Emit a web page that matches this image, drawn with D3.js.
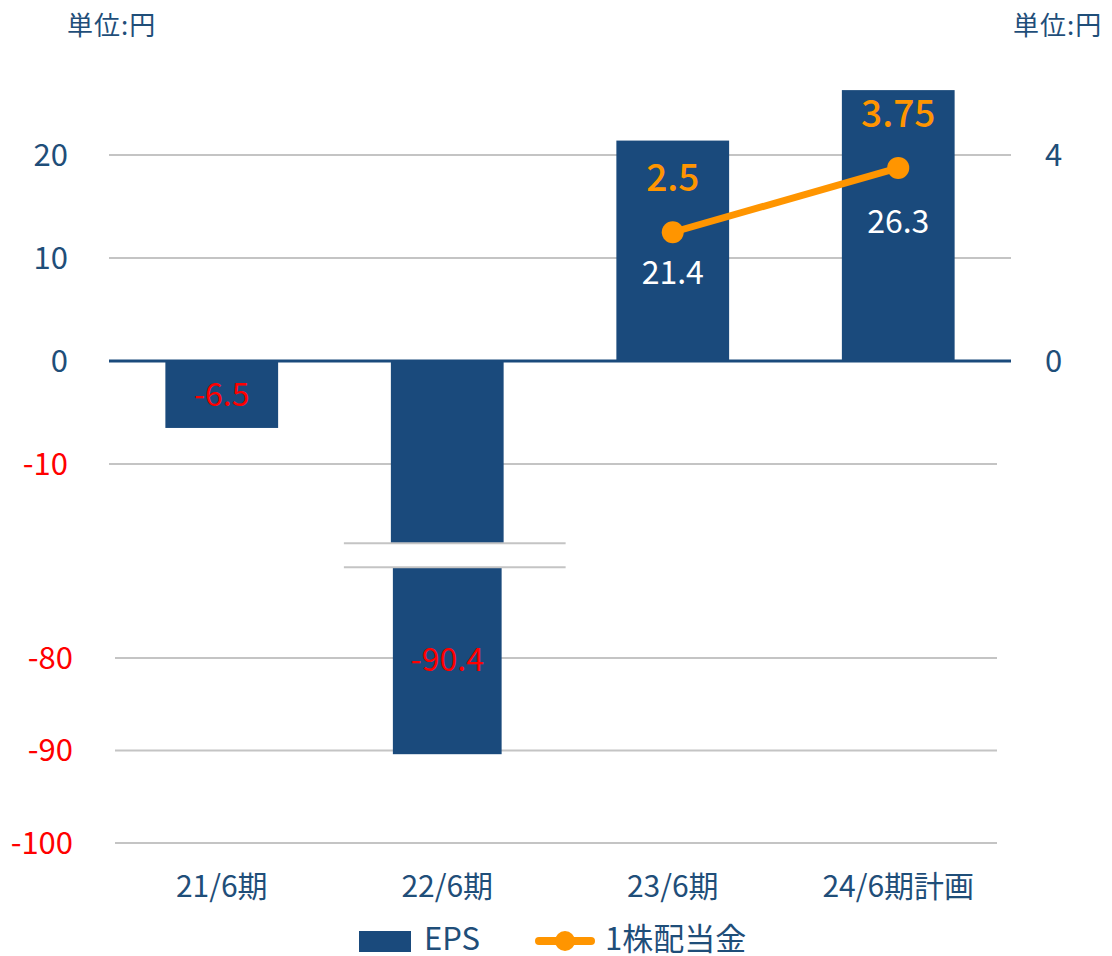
<!DOCTYPE html>
<html>
<head>
<meta charset="utf-8">
<script src="https://cdn.jsdelivr.net/npm/d3@7"></script>
<style>
  body { margin: 0; background: #fff; }
  svg { font-family: "Noto Sans CJK JP", "Noto Sans", sans-serif; }
</style>
</head>
<body>
<svg id="chart" width="1112" height="956"></svg>
<script>
const categories = ["21/6期", "22/6期", "23/6期", "24/6期計画"];
const eps = [-6.5, -90.4, 21.4, 26.3];
const dividend = [null, null, 2.5, 3.75];
const leftTicksUpper = [20, 10, 0, -10];
const leftTicksLower = [-80, -90, -100];
const rightTicks = [4, 0];

const colors = {
    bar: "#1a4a7c",
    line: "#ff9500",
    axisText: "#1f4e79",
    negative: "#ff0000",
    grid: "#c4c4c4",
};

const svg = d3.select("#chart");

// broken axis: upper part and lower part use their own scales
const yUp = d3.scaleLinear().domain([-10, 20]).range([464, 155]);
const yLow = d3.scaleLinear().domain([-100, -80]).range([843, 658]);
const breakUp = -17.7;   // where the long bar is cut in the upper scale
const breakLow = -70.2;  // where it resumes in the lower scale
const yRight = d3.scaleLinear().domain([0, 4]).range([yUp(0), yUp(20)]);

const x = d3.scaleBand().domain(categories).range([109, 1011])
    .paddingInner(0.5).paddingOuter(0.25);
const cx = c => x(c) + x.bandwidth() / 2;

// grid lines
leftTicksUpper.filter(t => t !== 0).forEach(t => {
    svg.append("line")
        .attr("x1", 109).attr("x2", t < 0 ? 997 : 1011)
        .attr("y1", yUp(t)).attr("y2", yUp(t))
        .attr("stroke", colors.grid).attr("stroke-width", 2);
});
leftTicksLower.forEach(t => {
    svg.append("line")
        .attr("x1", 115).attr("x2", 997)
        .attr("y1", yLow(t)).attr("y2", yLow(t))
        .attr("stroke", colors.grid).attr("stroke-width", 2);
});

// bars
eps.forEach((v, i) => {
    const bx = x(categories[i]);
    const bw = x.bandwidth();
    if (v >= breakUp) {
        const y0 = yUp(Math.max(v, 0));
        const y1 = yUp(Math.min(v, 0));
        svg.append("rect")
            .attr("x", bx).attr("y", y0)
            .attr("width", bw).attr("height", y1 - y0)
            .attr("fill", colors.bar);
    } else {
        svg.append("rect")
            .attr("x", bx).attr("y", yUp(0))
            .attr("width", bw).attr("height", yUp(breakUp) - yUp(0))
            .attr("fill", colors.bar);
        svg.append("rect")
            .attr("x", bx + 2).attr("y", yLow(breakLow))
            .attr("width", bw - 4).attr("height", yLow(v) - yLow(breakLow))
            .attr("fill", colors.bar);
        // break marks
        [yUp(breakUp), yLow(breakLow)].forEach(by => {
            svg.append("line")
                .attr("x1", bx - 47).attr("x2", bx + bw + 62)
                .attr("y1", by).attr("y2", by)
                .attr("stroke", colors.grid).attr("stroke-width", 2);
        });
    }
});

// zero line
svg.append("line")
    .attr("x1", 109).attr("x2", 1011)
    .attr("y1", yUp(0)).attr("y2", yUp(0))
    .attr("stroke", colors.bar).attr("stroke-width", 3);

// left axis labels
leftTicksUpper.forEach(t => {
    svg.append("text")
        .attr("x", 68).attr("y", yUp(t)).attr("dy", "0.35em")
        .attr("text-anchor", "end")
        .attr("font-size", 31)
        .attr("fill", t < 0 ? colors.negative : colors.axisText)
        .text(t);
});
leftTicksLower.forEach(t => {
    svg.append("text")
        .attr("x", 73).attr("y", yLow(t)).attr("dy", "0.35em")
        .attr("text-anchor", "end")
        .attr("font-size", 31)
        .attr("fill", colors.negative)
        .text(t);
});

// right axis labels
rightTicks.forEach(t => {
    svg.append("text")
        .attr("x", 1045).attr("y", yRight(t)).attr("dy", "0.35em")
        .attr("text-anchor", "start")
        .attr("font-size", 31)
        .attr("fill", colors.axisText)
        .text(t);
});

// unit labels
svg.append("text").attr("x", 67).attr("y", 35)
    .attr("font-size", 26).attr("letter-spacing", 1)
    .attr("fill", colors.axisText).text("単位:円");
svg.append("text").attr("x", 1013).attr("y", 35)
    .attr("font-size", 26).attr("letter-spacing", 1)
    .attr("fill", colors.axisText).text("単位:円");

// category labels
categories.forEach(c => {
    svg.append("text")
        .attr("x", cx(c)).attr("y", 886).attr("dy", "0.35em")
        .attr("text-anchor", "middle")
        .attr("font-size", 30)
        .attr("fill", colors.axisText)
        .text(c);
});

// EPS value labels
eps.forEach((v, i) => {
    let ly;
    if (v >= 0) ly = yUp(v) + 132;
    else if (v >= breakUp) ly = (yUp(0) + yUp(v)) / 2;
    else ly = yLow(v) - 94;
    svg.append("text")
        .attr("x", cx(categories[i])).attr("y", ly).attr("dy", "0.35em")
        .attr("text-anchor", "middle")
        .attr("font-size", 32)
        .attr("fill", v < 0 ? colors.negative : "#fff")
        .text(v);
});

// dividend line
const divPts = dividend.map((d, i) => ({ c: categories[i], d })).filter(p => p.d !== null);
const line = d3.line()
    .x(p => cx(p.c))
    .y(p => yRight(p.d));
svg.append("path")
    .datum(divPts)
    .attr("d", line)
    .attr("fill", "none")
    .attr("stroke", colors.line)
    .attr("stroke-width", 7);
svg.selectAll(".dot")
    .data(divPts)
    .enter().append("circle")
    .attr("cx", p => cx(p.c))
    .attr("cy", p => yRight(p.d))
    .attr("r", 11)
    .attr("fill", colors.line);
svg.selectAll(".divLabel")
    .data(divPts)
    .enter().append("text")
    .attr("x", p => cx(p.c))
    .attr("y", p => yRight(p.d) - 54)
    .attr("dy", "0.35em")
    .attr("text-anchor", "middle")
    .attr("font-size", 37)
    .attr("font-weight", 500)
    .attr("fill", colors.line)
    .text(p => p.d);

// legend
const legend = svg.append("g");
legend.append("rect")
    .attr("x", 359).attr("y", 931).attr("width", 52).attr("height", 21)
    .attr("fill", colors.bar);
legend.append("text")
    .attr("x", 424).attr("y", 939).attr("dy", "0.34em")
    .attr("font-size", 31).attr("fill", colors.axisText).text("EPS");
legend.append("line")
    .attr("x1", 539).attr("x2", 591).attr("y1", 941).attr("y2", 941)
    .attr("stroke", colors.line).attr("stroke-width", 8)
    .attr("stroke-linecap", "round");
legend.append("circle")
    .attr("cx", 565).attr("cy", 941).attr("r", 10)
    .attr("fill", colors.line);
legend.append("text")
    .attr("x", 605).attr("y", 939).attr("dy", "0.34em")
    .attr("font-size", 31).attr("fill", colors.axisText).text("1株配当金");
</script>
</body>
</html>
